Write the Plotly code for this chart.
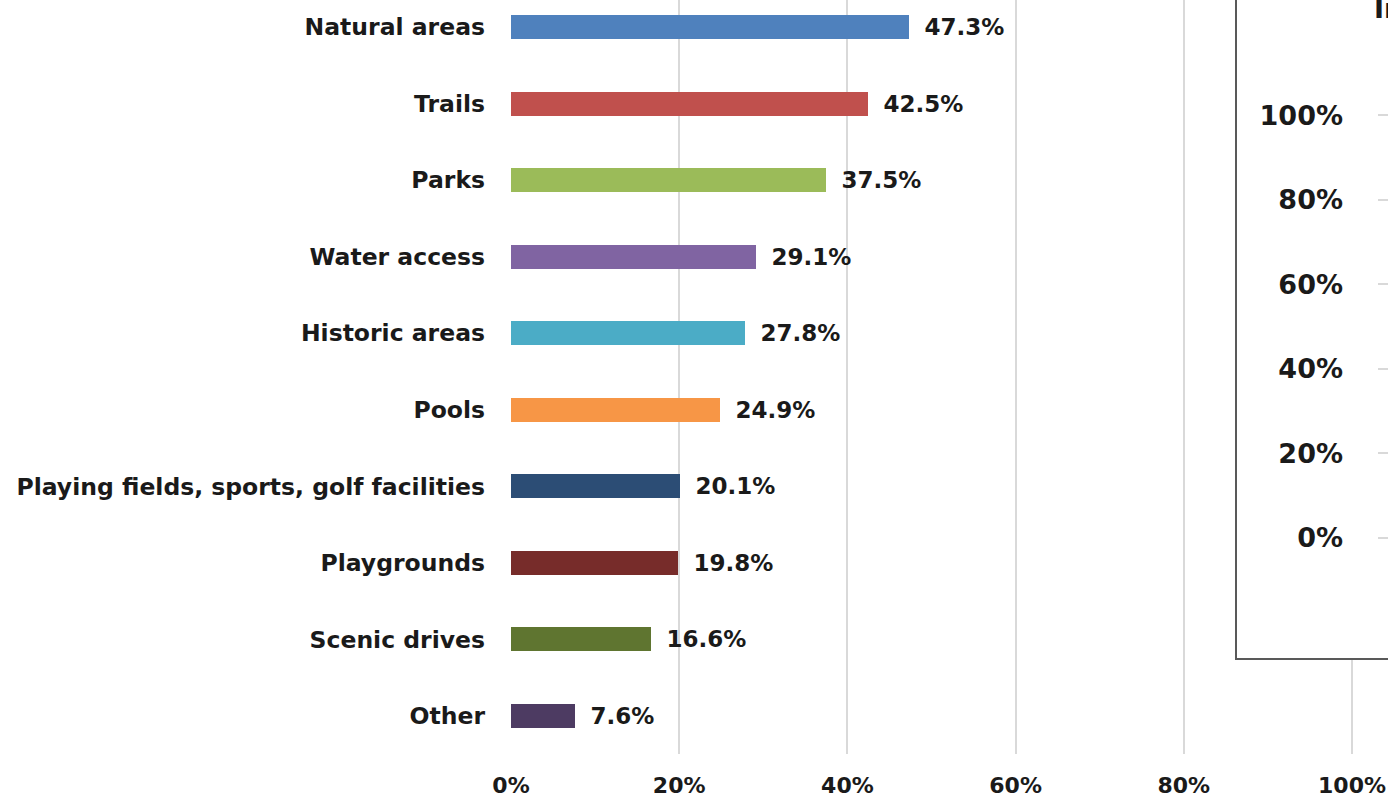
import plotly.graph_objects as go

categories = ["Natural areas", "Trails", "Parks", "Water access", "Historic areas", "Pools",
              "Playing fields, sports, golf facilities", "Playgrounds", "Scenic drives", "Other"]
values = [47.3, 42.5, 37.5, 29.1, 27.8, 24.9, 20.1, 19.8, 16.6, 7.6]
bar_colors = ["#4F81BD", "#C0504D", "#9BBB59", "#8064A2", "#4BACC6", "#F79646",
              "#2C4D75", "#772C2A", "#5F7530", "#4D3B62"]
x_ticks = [0, 20, 40, 60, 80, 100]
x_tick_labels = ["0%", "20%", "40%", "60%", "80%", "100%"]
inset_ticks = [0, 20, 40, 60, 80, 100]
inset_tick_labels = ["0%", "20%", "40%", "60%", "80%", "100%"]
inset_title = "Interest"

W, H = 1388, 800
FONT = "DejaVu Sans"
TXT = "#1a1a1a"
GRID = "#d9d9d9"

l, r, t, b = 511, 0, 0, 46
pw, ph = W - l - r, H - t - b
x_max = 100 * pw / (1352 - l)


def px_x(px):
    return (px - l) / pw


def px_y(py):
    return (H - b - py) / ph


fig = go.Figure()
fig.add_trace(go.Bar(
    x=values, y=categories, orientation="h",
    marker=dict(color=bar_colors, line=dict(width=0)),
    width=0.314,
    text=[f" \u2009{v:.1f}%" for v in values],
    textposition="outside",
    constraintext="none",
    textfont=dict(family=FONT, size=23, color=TXT, weight="bold"),
    cliponaxis=False, hoverinfo="skip", showlegend=False,
    xaxis="x", yaxis="y",
))
fig.add_trace(go.Scatter(x=[None], y=[None], xaxis="x2", yaxis="y2",
                         showlegend=False, hoverinfo="skip"))

fig.update_layout(
    width=W, height=H,
    margin=dict(l=l, r=r, t=t, b=b, pad=0),
    paper_bgcolor="white", plot_bgcolor="white",
    bargap=0,
    xaxis=dict(
        domain=[0, 1], range=[0, x_max], tickmode="array", tickvals=x_ticks, ticktext=x_tick_labels,
        showgrid=True, gridcolor=GRID, gridwidth=2, zeroline=False, showline=False,
        ticks="", ticklabelstandoff=16, automargin=False,
        tickfont=dict(family=FONT, size=22, color=TXT, weight="bold"),
    ),
    yaxis=dict(
        domain=[0, 1], type="category", categoryorder="array", categoryarray=categories,
        range=[9.497, -0.353], showgrid=False, zeroline=False, showline=False,
        ticks="", ticklabelstandoff=25, automargin=False,
        tickfont=dict(family=FONT, size=23.5, color=TXT, weight="bold"),
    ),
    xaxis2=dict(
        domain=[px_x(1236), 1.0], anchor="y2", range=[0, 1],
        visible=False, showgrid=False, zeroline=False,
    ),
    yaxis2=dict(
        domain=[px_y(659), 1.0], anchor="free", position=px_x(1377),
        range=[-28.6, 127.2], tickmode="array", tickvals=inset_ticks, ticktext=inset_tick_labels,
        showgrid=False, zeroline=False, showline=False,
        ticks="inside", ticklen=11, tickcolor=GRID, tickwidth=2,
        ticklabelstandoff=34, automargin=False,
        tickfont=dict(family=FONT, size=27, color=TXT, weight="bold"),
    ),
    shapes=[dict(
        type="rect", xref="paper", yref="paper",
        x0=px_x(1236), x1=1.1, y0=px_y(659), y1=1.1,
        line=dict(color="#595959", width=2), fillcolor="rgba(0,0,0,0)", layer="above",
    )],
    annotations=[dict(
        text=inset_title, xref="paper", yref="paper",
        x=px_x(1372), y=px_y(26), xanchor="left", yanchor="bottom",
        showarrow=False, font=dict(family=FONT, size=27, color=TXT, weight="bold"),
    )],
)
fig.write_html("out.html", config={"displayModeBar": False},
               post_script="document.body.style.margin='0';")
